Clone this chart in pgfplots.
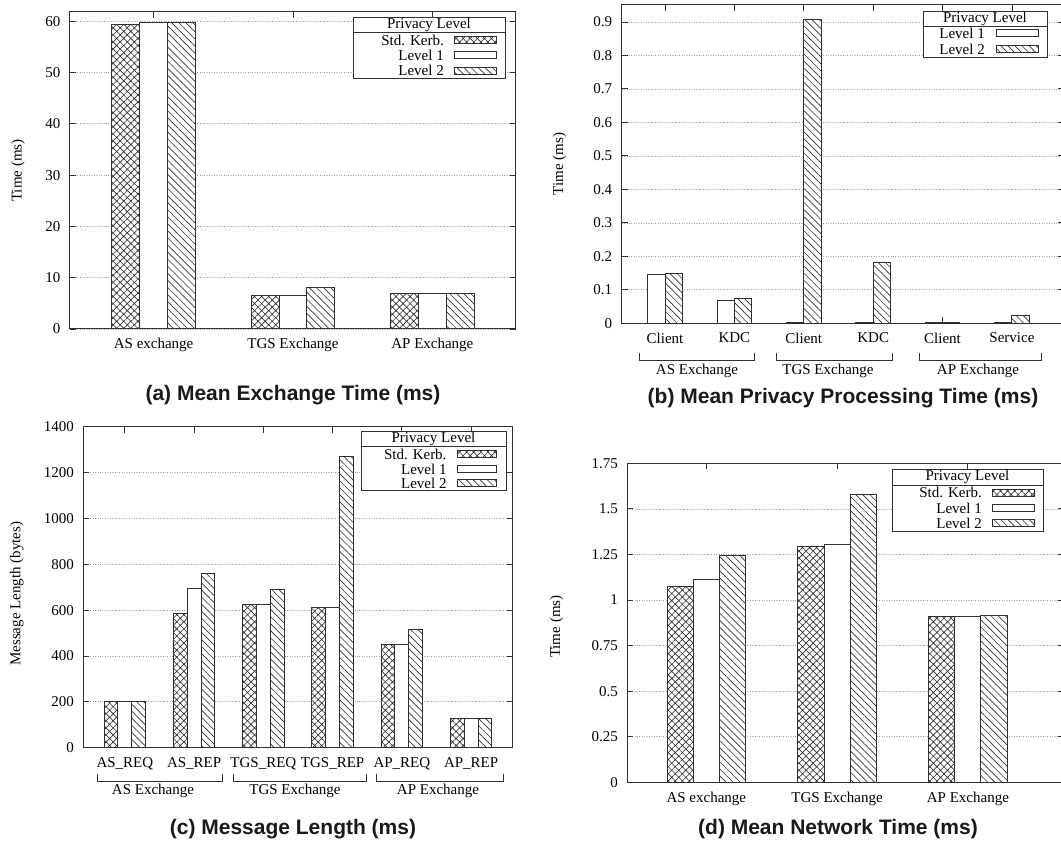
\documentclass[border=0pt]{standalone}
\usepackage{pgfplots}
\pgfplotsset{compat=1.18}
\usetikzlibrary{patterns.meta}
\usepackage{fontspec}
\setmainfont{Liberation Serif}
\newfontfamily\capfont{Liberation Sans}
\definecolor{ink}{HTML}{303030}
\tikzset{
 stdk/.style={draw=ink, line width=1pt, fill=white, postaction={pattern={Hatch[angle=45,distance=5pt,line width=0.65pt]}, pattern color=ink}},
 lvone/.style={draw=ink, line width=1pt, fill=white},
 lvtwo/.style={draw=ink, line width=1pt, fill=white, postaction={pattern={Lines[angle=-45,distance=5pt,line width=0.65pt]}, pattern color=ink}},
 capt/.style={font=\capfont\bfseries\fontsize{21}{25}\selectfont, text=black!90},
 brk/.style={draw=ink, line width=0.9pt},
}
\pgfplotsset{
 myax/.style={
  scale only axis, anchor=south west, ybar, ymin=0,
  axis line style={line width=1pt, draw=ink},
  tick align=inside, major tick length=6pt, tick style={draw=ink, line width=0.9pt},
  ymajorgrids, grid style={dotted, gray!75, line width=0.7pt},
  tick label style={font=\fontsize{15}{17}\selectfont},
  /pgf/number format/assume math mode=true,
  xticklabel style={yshift=-6pt},
  yticklabel style={xshift=-6pt},
  label style={font=\fontsize{15}{17}\selectfont},
 },
}
\begin{document}
\begin{tikzpicture}[x=1pt,y=1pt,font=\fontsize{15}{17}\selectfont]
\useasboundingbox (0,0) rectangle (1061,841);

% ---------------- (a) ----------------
\begin{axis}[myax, at={(70pt,512pt)}, width=446pt, height=317pt,
  xmin=-0.6, xmax=2.6, ymax=61.8,
  xtick={0,1,2}, xticklabels={AS exchange, TGS Exchange, AP Exchange},
  ytick={0,10,...,60}, yticklabels={0,10,20,30,40,50,60},
  ylabel={Time (ms)},
  every axis y label/.style={at={(axis description cs:-0.1166,0.5)}, rotate=90, anchor=center},
  bar width=0.2]
\addplot[stdk, bar shift=-0.2] coordinates {(0,59.4) (1,6.6) (2,7.0)};
\addplot[lvone, bar shift=0] coordinates {(0,59.7) (1,6.6) (2,7.0)};
\addplot[lvtwo, bar shift=0.2] coordinates {(0,59.8) (1,8.0) (2,7.0)};
\end{axis}
\draw[brk, fill=white] (353,763) rectangle (505,824);
\draw[brk] (353,809) -- (505,809);
\node at (429,816.5) {Privacy Level};
\node[anchor=east, inner sep=0pt] at (444,801) {Std. Kerb.};
\node[anchor=east, inner sep=0pt] at (444,786) {Level 1};
\node[anchor=east, inner sep=0pt] at (444,770.3) {Level 2};
\draw[stdk] (454,797.5) rectangle (496,804.5);
\draw[lvone] (454,782.5) rectangle (496,789.5);
\draw[lvtwo] (454,766.8) rectangle (496,773.8);
\node[capt] at (293,446) {(a) Mean Exchange Time (ms)};

% ---------------- (b) ----------------
\begin{axis}[myax, at={(621.7pt,517.7pt)}, width=442.3pt, height=318.3pt,
  xmin=-0.624, xmax=5.75, ymax=0.9507,
  xtick={0,...,5}, xticklabels={Client, KDC, Client, KDC, Client, Service},
  ytick={0,0.1,...,0.9}, yticklabels={0,0.1,0.2,0.3,0.4,0.5,0.6,0.7,0.8,0.9},
  ylabel={Time (ms)},
  every axis y label/.style={at={(axis description cs:-0.1406,0.5)}, rotate=90, anchor=center},
  bar width=0.25]
\addplot[lvone, bar shift=-0.125] coordinates {(0,0.147) (1,0.067) (2,0.003) (3,0.003) (4,0.003) (5,0.003)};
\addplot[lvtwo, bar shift=0.125] coordinates {(0,0.149) (1,0.075) (2,0.906) (3,0.182) (4,0.003) (5,0.022)};
\end{axis}
\draw[brk, fill=white] (923,784) rectangle (1047,830);
\draw[brk] (923,815) -- (1047,815);
\node at (985,822.5) {Privacy Level};
\node[anchor=east, inner sep=0pt] at (985,807.7) {Level 1};
\node[anchor=east, inner sep=0pt] at (985,791.7) {Level 2};
\draw[lvone] (996,804.2) rectangle (1038,811.2);
\draw[lvtwo] (996,788.2) rectangle (1038,795.2);
\draw[brk] (639,488) -- (639,481) -- (754,481) -- (754,488);
\draw[brk] (776,488) -- (776,481) -- (892,481) -- (892,488);
\draw[brk] (919,488) -- (919,481) -- (1041,481) -- (1041,488);
\node at (697,470) {AS Exchange};
\node at (828,470) {TGS Exchange};
\node at (978,470) {AP Exchange};
\node[capt] at (843,443) {(b) Mean Privacy Processing Time (ms)};

% ---------------- (c) ----------------
\begin{axis}[myax, at={(83.3pt,93.3pt)}, width=429.4pt, height=321pt,
  xmin=-0.6, xmax=5.6, ymax=1400,
  xtick={0,...,5}, xticklabels={AS\_REQ, AS\_REP, TGS\_REQ, TGS\_REP, AP\_REQ, AP\_REP},
  ytick={0,200,...,1400}, yticklabels={0,200,400,600,800,1000,1200,1400},
  ylabel={Message Length (bytes)},
  every axis y label/.style={at={(axis description cs:-0.155,0.48)}, rotate=90, anchor=center},
  bar width=0.2]
\addplot[stdk, bar shift=-0.2] coordinates {(0,203) (1,585) (2,625) (3,612) (4,451) (5,128)};
\addplot[lvone, bar shift=0] coordinates {(0,203) (1,694) (2,625) (3,612) (4,451) (5,128)};
\addplot[lvtwo, bar shift=0.2] coordinates {(0,203) (1,759) (2,690) (3,1272) (4,514) (5,128)};
\end{axis}
\draw[brk, fill=white] (361,350.3) rectangle (506,409.3);
\draw[brk] (361,395) -- (506,395);
\node at (433.5,402) {Privacy Level};
\node[anchor=east, inner sep=0pt] at (446.7,386.7) {Std. Kerb.};
\node[anchor=east, inner sep=0pt] at (446.7,372) {Level 1};
\node[anchor=east, inner sep=0pt] at (446.7,357.7) {Level 2};
\draw[stdk] (457,383.2) rectangle (496.7,390.2);
\draw[lvone] (457,368.5) rectangle (496.7,375.5);
\draw[lvtwo] (457,354.2) rectangle (496.7,361.2);
\draw[brk] (97,67) -- (97,60) -- (222,60) -- (222,67);
\draw[brk] (233,67) -- (233,60) -- (366,60) -- (366,67);
\draw[brk] (376,67) -- (376,60) -- (503,60) -- (503,67);
\node at (153,50) {AS Exchange};
\node at (295,50) {TGS Exchange};
\node at (438,50) {AP Exchange};
\node[capt] at (293,12) {(c) Message Length (ms)};

% ---------------- (d) ----------------
\begin{axis}[myax, at={(627.3pt,58.7pt)}, width=436.6pt, height=319pt,
  xmin=-0.604, xmax=2.734, ymax=1.75,
  xtick={0,1,2}, xticklabels={AS exchange, TGS Exchange, AP Exchange},
  ytick={0,0.25,...,1.75}, yticklabels={0,0.25,0.5,0.75,1,1.25,1.5,1.75},
  ylabel={Time (ms)},
  every axis y label/.style={at={(axis description cs:-0.162,0.488)}, rotate=90, anchor=center},
  bar width=0.2]
\addplot[stdk, bar shift=-0.2] coordinates {(0,1.074) (1,1.291) (2,0.911)};
\addplot[lvone, bar shift=0] coordinates {(0,1.110) (1,1.302) (2,0.907)};
\addplot[lvtwo, bar shift=0.2] coordinates {(0,1.242) (1,1.578) (2,0.916)};
\end{axis}
\draw[brk, fill=white] (892,310) rectangle (1043,372);
\draw[brk] (892,356) -- (1043,356);
\node at (967.5,363.7) {Privacy Level};
\node[anchor=east, inner sep=0pt] at (982,348.3) {Std. Kerb.};
\node[anchor=east, inner sep=0pt] at (982,332.7) {Level 1};
\node[anchor=east, inner sep=0pt] at (982,317.7) {Level 2};
\draw[stdk] (992.7,344.8) rectangle (1034,351.8);
\draw[lvone] (992.7,329.2) rectangle (1034,336.2);
\draw[lvtwo] (992.7,314.2) rectangle (1034,321.2);
\node[capt] at (838,12) {(d) Mean Network Time (ms)};
\end{tikzpicture}
\end{document}
